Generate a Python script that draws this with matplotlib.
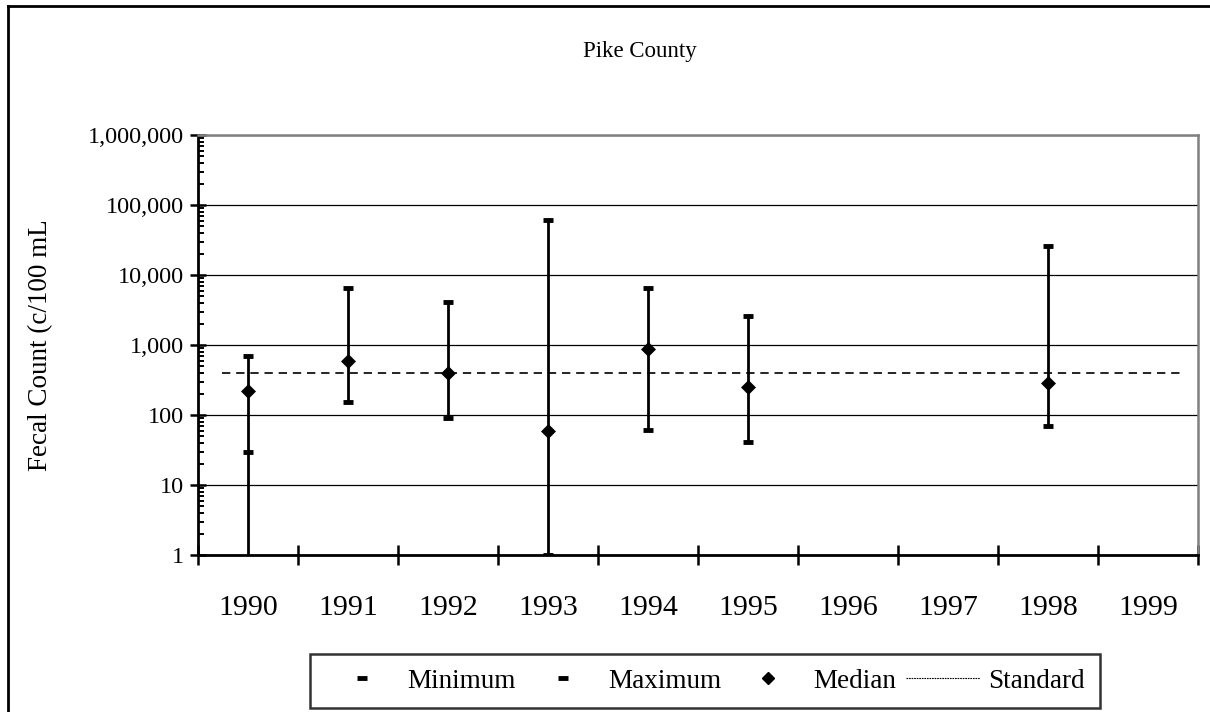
import matplotlib
matplotlib.use("Agg")
import matplotlib.pyplot as plt
from matplotlib.lines import Line2D
from matplotlib.ticker import FixedLocator, LogLocator, NullFormatter, FuncFormatter
import numpy as np

plt.rcParams['font.family'] = ['Liberation Serif', 'DejaVu Serif']

# data
years = ["1990", "1991", "1992", "1993", "1994", "1995", "1996", "1997", "1998", "1999"]
minimum = [30, 155, 91, 1, 62, 41, np.nan, np.nan, 70, np.nan]
maximum = [700, 6600, 4100, 61000, 6600, 2600, np.nan, np.nan, 26000, np.nan]
median = [222, 600, 400, 60, 890, 255, np.nan, np.nan, 287, np.nan]
line_bottom = [1, 155, 91, 1, 62, 41, np.nan, np.nan, 70, np.nan]
standard = 400

fig = plt.figure(figsize=(12.1, 7.12), dpi=100)
ax = fig.add_axes([198 / 1210, 1 - 555 / 712, 1000 / 1210, 420 / 712])

x = np.arange(len(years))

# vertical range lines
ax.vlines(x, line_bottom, maximum, color="black", lw=2.0, zorder=3)
ax.plot(x, minimum, ls="none", marker="_", ms=7.5, mew=3.5, color="black", zorder=4)
ax.plot(x, maximum, ls="none", marker="_", ms=7.5, mew=3.5, color="black", zorder=4)
ax.plot(x, median, ls="none", marker="D", ms=7.5, mew=0.5, color="black", zorder=5)
ax.hlines(standard, -0.26, 9.35, color="black", lw=1.2, linestyles=(0, (5.0, 3.5)), zorder=2)

ax.set_yscale("log")
ax.set_ylim(1, 1e6)
ax.set_xlim(-0.5, len(years) - 0.5)

ax.yaxis.set_major_locator(LogLocator(base=10, numticks=10))
ax.yaxis.set_minor_locator(LogLocator(base=10, subs=np.arange(2, 10), numticks=10))
ax.yaxis.set_minor_formatter(NullFormatter())
ax.yaxis.set_major_formatter(FuncFormatter(lambda v, p: "{:,.0f}".format(v)))
ax.yaxis.grid(True, which="major", color="black", lw=0.9)
ax.set_axisbelow(True)

ax.tick_params(axis="y", which="major", direction="inout", length=12, width=1.8,
               labelsize=17.5, pad=4)
ax.tick_params(axis="y", which="minor", direction="in", length=4.5, width=1.4)

# category boundaries as ticks, labels at centres
ax.xaxis.set_major_locator(FixedLocator(np.arange(-0.5, len(years), 1.0)))
ax.xaxis.set_major_formatter(NullFormatter())
ax.xaxis.set_minor_locator(FixedLocator(x))
ax.set_xticklabels(years, minor=True)
ax.tick_params(axis="x", which="major", direction="inout", length=15, width=1.8)
ax.tick_params(axis="x", which="minor", length=0, labelsize=21.5, pad=29)

for side in ["left", "bottom"]:
    ax.spines[side].set_color("black")
    ax.spines[side].set_linewidth(2.0)
for side in ["top", "right"]:
    ax.spines[side].set_color("#808080")
    ax.spines[side].set_linewidth(1.8)

ax.set_ylabel("Fecal Count (c/100 mL", fontsize=19.5, labelpad=18)
ax.yaxis.set_label_coords(-0.145, 0.5)

fig.text(640 / 1210, 1 - 52 / 712, "Pike County", ha="center", va="center", fontsize=16.5)

# outer frame (left and top edges visible)
fig.add_artist(Line2D([8 / 1210, 8 / 1210], [0, 1 - 6 / 712], transform=fig.transFigure,
                      color="black", lw=2.0))
fig.add_artist(Line2D([8 / 1210, 1], [1 - 6 / 712, 1 - 6 / 712], transform=fig.transFigure,
                      color="black", lw=2.0))

handles = [
    Line2D([], [], ls="none", marker="_", ms=7, mew=3.5, color="black"),
    Line2D([], [], ls="none", marker="_", ms=7, mew=3.5, color="black"),
    Line2D([], [], ls="none", marker="D", ms=6.5, color="black"),
    Line2D([], [], ls=(0, (1.5, 0.8)), lw=0.8, color="black"),
]
leg = fig.legend(handles, ["Minimum", "Maximum", "Median", "Standard"], ncol=4,
                 loc="center", bbox_to_anchor=(705 / 1210, 1 - 681 / 712),
                 fontsize=19.5, frameon=True, fancybox=False, handlelength=2.75,
                 handletextpad=0.3, columnspacing=0.35, borderpad=0.55,
                 borderaxespad=0)
leg.get_frame().set_edgecolor("black")
leg.get_frame().set_linewidth(1.8)

fig.savefig("out.png", dpi=100)
